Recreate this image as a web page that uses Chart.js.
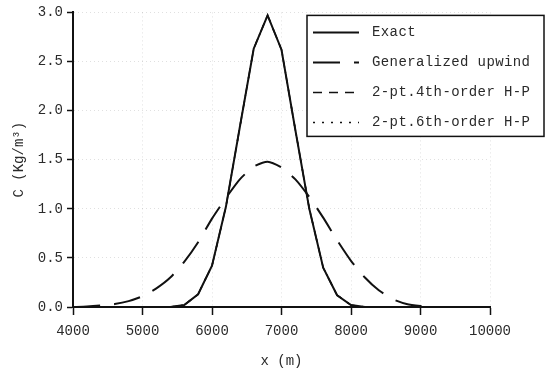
<!DOCTYPE html>
<html>
<head>
<meta charset="utf-8">
<script src="https://cdn.jsdelivr.net/npm/chart.js@4.4.1/dist/chart.umd.min.js"></script>
<style>
  html, body { margin: 0; padding: 0; background: #fff; }
  #wrap { width: 552px; height: 371px; position: relative; }
</style>
</head>
<body>
<div id="wrap"><canvas id="grafico"></canvas></div>
<script>
// valores (x em m, C em Kg/m3)
var xExato = [4000, 5400, 5600, 5800, 6000, 6200, 6400, 6600, 6800, 7000, 7200, 7400, 7600, 7800, 8000, 8200, 10000];
var cExato = [0, 0, 0.02, 0.13, 0.42, 1.02, 1.83, 2.63, 2.97, 2.62, 1.80, 1.00, 0.40, 0.12, 0.02, 0, 0];

var xUpwind = [4000, 4200, 4400, 4600, 4800, 5000, 5200, 5400, 5600, 5800, 6000, 6200, 6400, 6600, 6800,
               7000, 7200, 7400, 7600, 7800, 8000, 8200, 8400, 8600, 8800, 9000, 9200, 10000];
var cUpwind = [0, 0.005, 0.015, 0.03, 0.06, 0.11, 0.19, 0.30, 0.46, 0.66, 0.90, 1.11, 1.30, 1.43, 1.48,
               1.42, 1.30, 1.12, 0.91, 0.68, 0.47, 0.30, 0.17, 0.08, 0.03, 0.01, 0, 0];

// os esquemas H-P ficam sobre a solucao exata na figura
var xHP4 = xExato.slice();
var cHP4 = [0, 0, 0.02, 0.13, 0.42, 1.02, 1.83, 2.63, 2.97, 2.62, 1.80, 1.00, 0.40, 0.12, 0.02, 0, 0];
var xHP6 = xExato.slice();
var cHP6 = [0, 0, 0.02, 0.13, 0.42, 1.02, 1.83, 2.63, 2.97, 2.62, 1.80, 1.00, 0.40, 0.12, 0.02, 0, 0];

var nomesSeries = ['Exact', 'Generalized upwind', '2-pt.4th-order H-P', '2-pt.6th-order H-P'];
var ticksX = [4000, 5000, 6000, 7000, 8000, 9000, 10000];
var ticksY = [0, 0.5, 1.0, 1.5, 2.0, 2.5, 3.0];

function pares(xs, ys) {
    var out = [];
    for (var i = 0; i < xs.length; i++) out.push({ x: xs[i], y: ys[i] });
    return out;
}

var fonte = "'Liberation Mono', 'DejaVu Sans Mono', monospace";
var corTexto = '#2a2a2a';

var legendaCaixa = {
    id: 'legendaCaixa',
    afterDraw: function (chart) {
        var ctx = chart.ctx;
        var area = chart.chartArea;
        var x0 = area.right - 183, y0 = area.top + 3, w = 237, h = 121;
        ctx.save();
        ctx.fillStyle = '#fff';
        ctx.fillRect(x0, y0, w, h);
        ctx.strokeStyle = '#111';
        ctx.lineWidth = 1.5;
        ctx.strokeRect(x0, y0, w, h);
        ctx.font = '14px ' + fonte;
        ctx.textBaseline = 'middle';
        ctx.fillStyle = corTexto;
        if ('letterSpacing' in ctx) ctx.letterSpacing = '0.4px';
        chart.data.datasets.forEach(function (ds, i) {
            var yy = y0 + 17 + i * 30;
            ctx.beginPath();
            ctx.setLineDash(ds.borderDash || []);
            ctx.lineWidth = ds.borderWidth;
            ctx.strokeStyle = '#111';
            ctx.moveTo(x0 + 6, yy);
            ctx.lineTo(x0 + 52, yy);
            ctx.stroke();
            ctx.setLineDash([]);
            ctx.fillText(ds.label, x0 + 65, yy);
        });
        ctx.restore();
    }
};

var ctx = document.getElementById('grafico').getContext('2d');
var grafico = new Chart(ctx, {
    type: 'scatter',
    data: {
        datasets: [
            { label: nomesSeries[0], data: pares(xExato, cExato), showLine: true, borderColor: '#111',
              borderWidth: 2, pointRadius: 0, tension: 0 },
            { label: nomesSeries[1], data: pares(xUpwind, cUpwind), showLine: true, borderColor: '#111',
              borderWidth: 2, borderDash: [27, 14], pointRadius: 0, tension: 0.2 },
            { label: nomesSeries[2], data: pares(xHP4, cHP4), showLine: true, borderColor: '#111',
              borderWidth: 1.5, borderDash: [9, 7], pointRadius: 0, tension: 0 },
            { label: nomesSeries[3], data: pares(xHP6, cHP6), showLine: true, borderColor: '#111',
              borderWidth: 1.5, borderDash: [2, 7], pointRadius: 0, tension: 0 }
        ]
    },
    options: {
        responsive: true,
        maintainAspectRatio: false,
        animation: false,
        layout: { padding: { left: 0, right: 62, top: 12, bottom: 0 } },
        plugins: { legend: { display: false }, tooltip: { enabled: false } },
        scales: {
            x: {
                type: 'linear',
                min: 4000, max: 10000,
                afterFit: function (s) { s.height = 64; },
                afterBuildTicks: function (s) { s.ticks = ticksX.map(function (v) { return { value: v }; }); },
                ticks: { color: corTexto, font: { family: fonte, size: 14 }, padding: 8, maxRotation: 0,
                         callback: function (v) { return String(v); } },
                grid: { color: 'rgba(0,0,0,0.12)', tickColor: '#111', tickLength: 8, tickWidth: 1.5,
                        tickBorderDash: [] },
                border: { display: true, color: '#111', width: 2, dash: [1, 3] },
                title: { display: true, text: 'x (m)', color: corTexto, font: { family: fonte, size: 14 },
                         padding: { top: 0, bottom: 1 } }
            },
            y: {
                type: 'linear',
                min: 0, max: 3,
                afterFit: function (s) { s.width = 73; },
                afterBuildTicks: function (s) { s.ticks = ticksY.map(function (v) { return { value: v }; }); },
                ticks: { color: corTexto, font: { family: fonte, size: 14 }, padding: 4,
                         callback: function (v) { return Number(v).toFixed(1); } },
                grid: { color: 'rgba(0,0,0,0.12)', tickColor: '#111', tickLength: 6, tickWidth: 1.5,
                        tickBorderDash: [] },
                border: { display: true, color: '#111', width: 2, dash: [1, 3] },
                title: { display: true, text: 'C (Kg/m³)', color: corTexto, font: { family: fonte, size: 14 },
                         padding: { top: 11, bottom: 0 } }
            }
        }
    },
    plugins: [legendaCaixa]
});
</script>
</body>
</html>
